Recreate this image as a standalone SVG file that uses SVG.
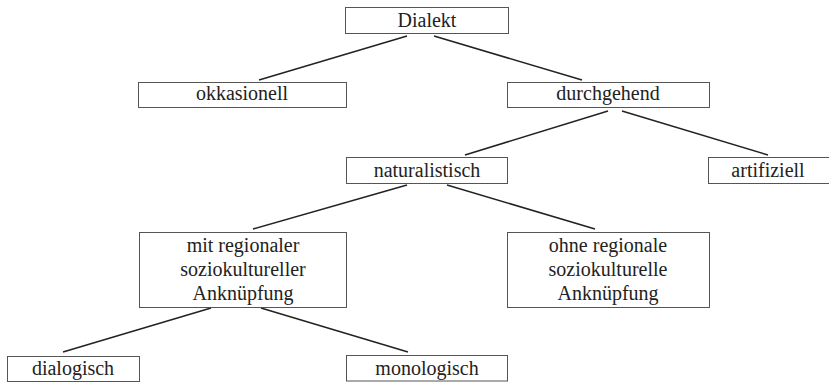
<svg xmlns="http://www.w3.org/2000/svg" width="829" height="382" viewBox="0 0 829 382">
<style>
.box{fill:#fff;stroke:#555;stroke-width:1}
.c line{stroke:#222;stroke-width:1.5}
</style>
<rect width="829" height="382" fill="#fff"/>
<g class="c" id="connectors">
<line x1="407" y1="36" x2="259" y2="80"/>
<line x1="434" y1="36" x2="582" y2="80"/>
<line x1="608" y1="111" x2="465" y2="155"/>
<line x1="622" y1="111" x2="768" y2="155"/>
<line x1="407" y1="185" x2="253" y2="229"/>
<line x1="447" y1="185" x2="595" y2="229"/>
<line x1="211" y1="308" x2="63" y2="352"/>
<line x1="261" y1="308" x2="408" y2="352"/>
</g>
<g font-family="Liberation Serif, DejaVu Serif, serif" font-size="20" fill="#222" text-anchor="middle">
<g id="dialekt"><rect class="box" x="345.5" y="7.5" width="163" height="26"/><text x="427" y="27">Dialekt</text></g>
<g id="okkasionell"><rect class="box" x="138.5" y="82.5" width="208" height="25"/><text x="242" y="100">okkasionell</text></g>
<g id="durchgehend"><rect class="box" x="507.5" y="82.5" width="202" height="25"/><text x="608" y="100">durchgehend</text></g>
<g id="naturalistisch"><rect class="box" x="346.5" y="157.5" width="161" height="26"/><text x="427" y="177">naturalistisch</text></g>
<g id="artifiziell"><rect class="box" x="708.5" y="157.5" width="125" height="26"/><text x="768" y="177">artifiziell</text></g>
<g id="mit"><rect class="box" x="139.5" y="232.5" width="207" height="75"/><text x="243" y="252">mit regionaler</text><text x="243" y="276">soziokultureller</text><text x="243" y="300">Anknüpfung</text></g>
<g id="ohne"><rect class="box" x="507.5" y="232.5" width="202" height="75"/><text x="608" y="252">ohne regionale</text><text x="608" y="276">soziokulturelle</text><text x="608" y="300">Anknüpfung</text></g>
<g id="dialogisch"><rect class="box" x="7.5" y="356.5" width="132" height="25"/><text x="73" y="375">dialogisch</text></g>
<g id="monologisch"><rect class="box" x="346.5" y="355.5" width="161" height="25.5"/><text x="427" y="375">monologisch</text></g>
</g>
</svg>
